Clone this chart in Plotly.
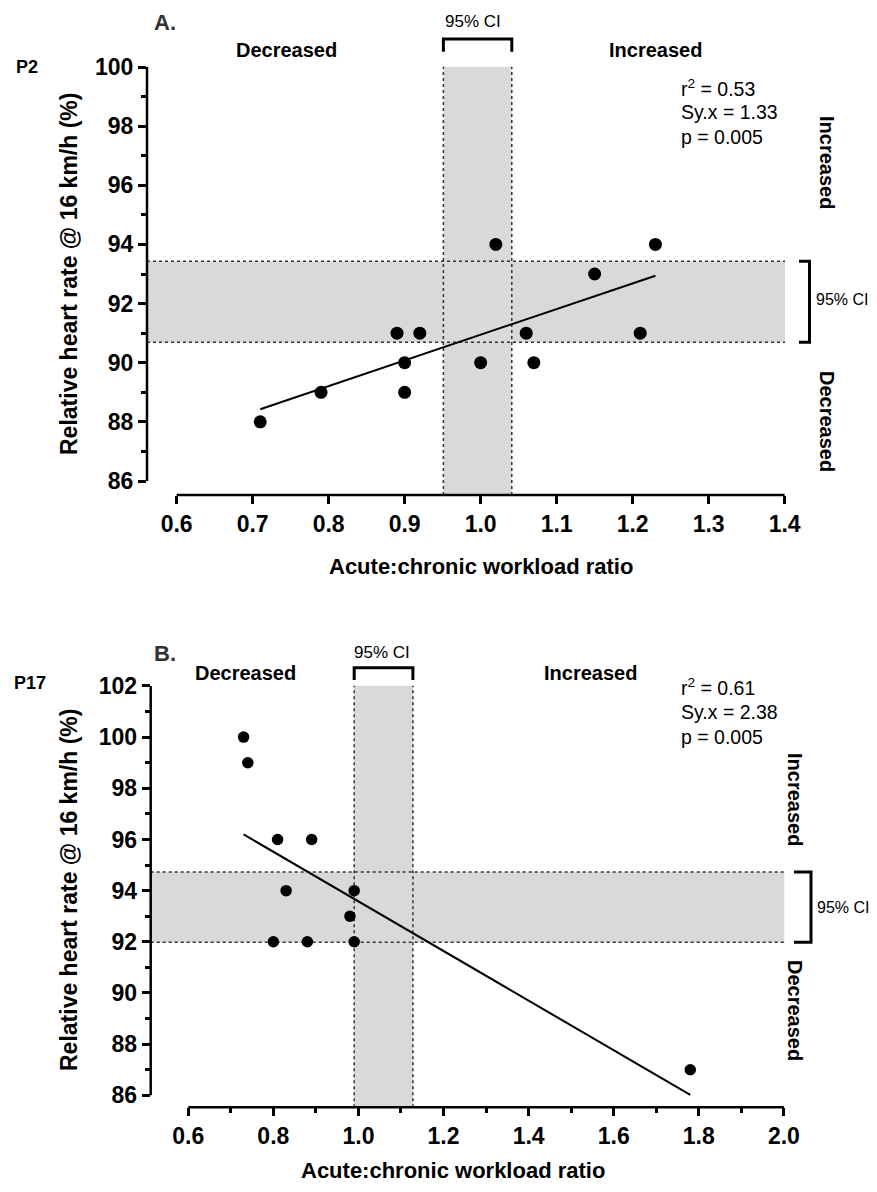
import numpy as np
import plotly.graph_objects as go

# ---------------- data ----------------
top_x = [0.71, 0.79, 0.89, 0.92, 0.90, 0.90, 1.00, 1.02, 1.06, 1.07, 1.15, 1.21, 1.23]
top_y = [88, 89, 91, 91, 90, 89, 90, 94, 91, 90, 93, 91, 94]
top_x_ci = [0.951, 1.041]
top_y_ci = [90.69, 93.43]
top_stats = ["r<sup>2</sup> = 0.53", "Sy.x = 1.33", "p = 0.005"]

bot_x = [0.73, 0.74, 0.81, 0.89, 0.83, 0.99, 0.98, 0.80, 0.88, 0.99, 1.78]
bot_y = [100, 99, 96, 96, 94, 94, 93, 92, 92, 92, 87]
bot_x_ci = [0.99, 1.128]
bot_y_ci = [91.98, 94.73]
bot_stats = ["r<sup>2</sup> = 0.61", "Sy.x = 2.38", "p = 0.005"]

top_xticks = [0.6, 0.7, 0.8, 0.9, 1.0, 1.1, 1.2, 1.3, 1.4]
top_yticks = [86, 88, 90, 92, 94, 96, 98, 100]
bot_xticks = [0.6, 0.8, 1.0, 1.2, 1.4, 1.6, 1.8, 2.0]
bot_yticks = [86, 88, 90, 92, 94, 96, 98, 100, 102]

# page has an 8px body margin, so the figure is drawn 8px in from the corner
OFF = 8
W, H = 877 - 2 * OFF, 1192 - 2 * OFF
FONT = "Liberation Sans, Arial, Helvetica, sans-serif"


def px(p):
    return (p - OFF) / W


def py(p):
    return 1 - (p - OFF) / H


fig = go.Figure()

# regression fits
for xs, ys, sz, xa, ya in [(top_x, top_y, 13, "x", "y"), (bot_x, bot_y, 11.5, "x2", "y2")]:
    slope, icpt = np.polyfit(xs, ys, 1)
    lx = np.array([min(xs), max(xs)])
    fig.add_trace(go.Scatter(x=lx, y=slope * lx + icpt, mode="lines",
                             line=dict(color="black", width=2),
                             xaxis=xa, yaxis=ya, showlegend=False, hoverinfo="skip"))
    fig.add_trace(go.Scatter(x=xs, y=ys, mode="markers",
                             marker=dict(color="black", size=sz, symbol="circle"),
                             xaxis=xa, yaxis=ya, showlegend=False))

tickfont = dict(family=FONT, size=23, color="black", weight="bold")


def xaxis_cfg(domain, rng, ticks, anchor, minor=None):
    d = dict(domain=domain, range=rng, tickmode="array", tickvals=ticks,
             ticktext=[f"{t:.1f}" for t in ticks], anchor=anchor, automargin=False,
             ticks="outside", ticklen=8, tickwidth=2.5, tickcolor="black",
             showline=False, showgrid=False, zeroline=False, tickfont=tickfont)
    if minor is not None:
        d["minor"] = minor
    return d


def yaxis_cfg(domain, rng, ticks, anchor):
    return dict(domain=domain, range=rng, tickmode="array", tickvals=ticks,
                ticktext=[str(t) for t in ticks], automargin=False,
                ticks="outside", ticklen=8, tickwidth=2.5, tickcolor="black",
                showline=False, showgrid=False, zeroline=False, tickfont=tickfont,
                anchor=anchor,
                minor=dict(tick0=85, dtick=2, ticks="outside", ticklen=5,
                           tickwidth=2.5, tickcolor="black"))


fig.update_layout(
    width=W, height=H,
    margin=dict(l=0, r=0, t=0, b=0, pad=0),
    paper_bgcolor="white", plot_bgcolor="white",
    font=dict(family=FONT, color="black"),
    xaxis=xaxis_cfg([px(147), px(785)], [0.561, 1.4005], top_xticks, "y"),
    yaxis=yaxis_cfg([py(495), py(66.7)], [85.527, 100.01], top_yticks, "x"),
    xaxis2=xaxis_cfg([px(150.7), px(784.3)], [0.5117, 2.001], bot_xticks, "y2",
                     minor=dict(tick0=0.7, dtick=0.2, ticks="outside", ticklen=5,
                                tickwidth=2.5, tickcolor="black")),
    yaxis2=yaxis_cfg([py(1107.3), py(685.7)], [85.531, 102.01], bot_yticks, "x2"),
)

GRAY = "#d9d9d9"
DOT = dict(color="#333333", width=1.5, dash="dot")

panels = [
    dict(xa="x", ya="y", xci=top_x_ci, yci=top_y_ci, xlo=0.6, xhi=1.4, ylo=86, yhi=100),
    dict(xa="x2", ya="y2", xci=bot_x_ci, yci=bot_y_ci, xlo=0.6, xhi=2.0, ylo=86, yhi=102),
]
for p in panels:
    xa, ya = p["xa"], p["ya"]
    # bands
    fig.add_shape(type="rect", xref=xa, yref=f"{ya} domain", x0=p["xci"][0], x1=p["xci"][1],
                  y0=0, y1=1, fillcolor=GRAY, line_width=0, layer="below")
    fig.add_shape(type="rect", xref=f"{xa} domain", yref=ya, x0=0, x1=1,
                  y0=p["yci"][0], y1=p["yci"][1], fillcolor=GRAY, line_width=0, layer="below")
    for v in p["xci"]:
        fig.add_shape(type="line", xref=xa, yref=f"{ya} domain", x0=v, x1=v, y0=0, y1=1,
                      line=DOT, layer="below")
    for v in p["yci"]:
        fig.add_shape(type="line", xref=f"{xa} domain", yref=ya, x0=0, x1=1, y0=v, y1=v,
                      line=DOT, layer="below")
    # axis lines
    fig.add_shape(type="line", xref=f"{xa} domain", yref=ya, x0=0, x1=0,
                  y0=p["ylo"], y1=p["yhi"], line=dict(color="black", width=2.5))
    fig.add_shape(type="line", xref=xa, yref=f"{ya} domain", x0=p["xlo"], x1=p["xhi"],
                  y0=0, y1=0, line=dict(color="black", width=2.5))

# top CI brackets
BR = dict(color="black", width=3)
for xa, ci, ytop, yleg in [("x", top_x_ci, 39, 51.7), ("x2", bot_x_ci, 667.7, 680)]:
    fig.add_shape(type="path", xref=xa, yref="paper",
                  path=f"M {ci[0]},{py(yleg)} L {ci[0]},{py(ytop)} L {ci[1]},{py(ytop)} L {ci[1]},{py(yleg)}",
                  line=BR)
# right CI brackets
for ya, ci, xv, xf in [("y", top_y_ci, 809.5, 799), ("y2", bot_y_ci, 811, 794)]:
    fig.add_shape(type="path", xref="paper", yref=ya,
                  path=f"M {px(xf)},{ci[1]} L {px(xv)},{ci[1]} L {px(xv)},{ci[0]} L {px(xf)},{ci[0]}",
                  line=BR)


def ann(text, x, y, size, bold=False, xanchor="center", yanchor="middle", angle=0, color="black"):
    t = f"<b>{text}</b>" if bold else text
    fig.add_annotation(text=t, x=px(x), y=py(y), xref="paper", yref="paper",
                       showarrow=False, xanchor=xanchor, yanchor=yanchor, textangle=angle,
                       font=dict(family=FONT, size=size, color=color))


YT = "Relative heart rate @ 16 km/h (%)"
XT = "Acute:chronic workload ratio"

# panel A
ann("A.", 152, 23, 22, bold=True, xanchor="left", color="#333333")
ann("P2", 14, 67, 18, bold=True, xanchor="left")
ann("Decreased", 286, 50, 20, bold=True)
ann("Increased", 655, 50, 20, bold=True)
ann("95% CI", 473, 22, 17)
ann(YT, 69, 274, 23, bold=True, angle=-90)
ann(XT, 481, 566, 22, bold=True)
ann("Increased", 827, 162, 20, bold=True, angle=90)
ann("Decreased", 827, 421, 20, bold=True, angle=90)
ann("95% CI", 814, 300, 16, xanchor="left")
for s, yy in zip(top_stats, [88, 111.7, 136.7]):
    ann(s, 679, yy, 19.5, xanchor="left")

# panel B
ann("B.", 152, 653, 22, bold=True, xanchor="left", color="#333333")
ann("P17", 12, 683, 18, bold=True, xanchor="left")
ann("Decreased", 245, 673, 20, bold=True)
ann("Increased", 590, 673, 20, bold=True)
ann("95% CI", 382, 652, 17)
ann(YT, 69, 890, 23, bold=True, angle=-90)
ann(XT, 453, 1170, 22, bold=True)
ann("Increased", 795, 799, 20, bold=True, angle=90)
ann("Decreased", 795, 1010, 20, bold=True, angle=90)
ann("95% CI", 815, 907, 16, xanchor="left")
for s, yy in zip(bot_stats, [686.7, 711.7, 736.7]):
    ann(s, 679, yy, 19.5, xanchor="left")

fig.write_html("out.html")
